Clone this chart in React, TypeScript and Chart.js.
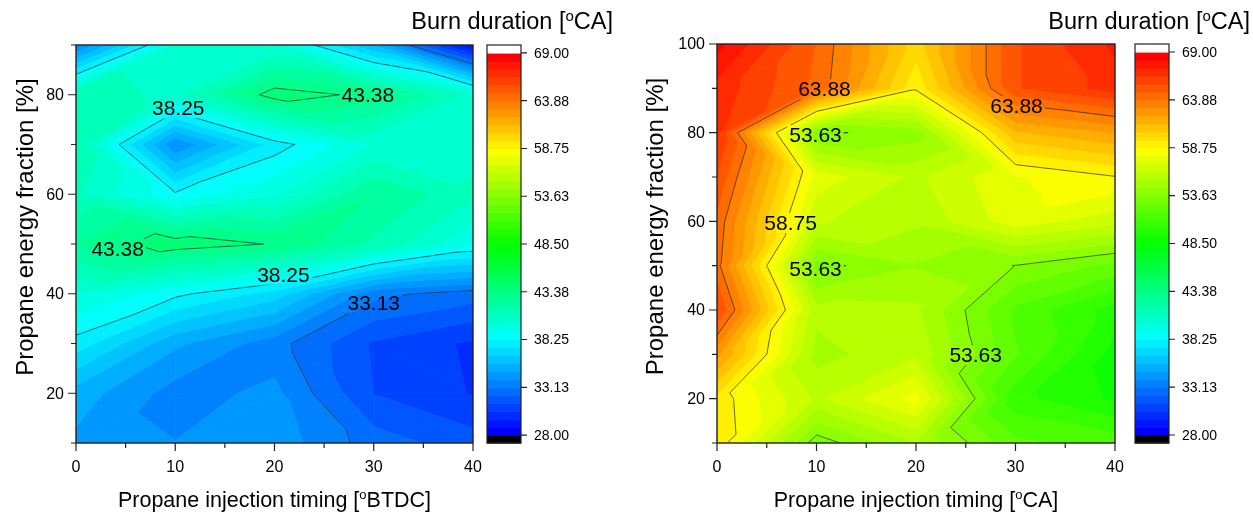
import React, { useEffect, useRef } from "react";
import { Chart, registerables } from "chart.js";
Chart.register(...registerables);

// ---------------- data ----------------
const xTiming = [0, 10, 20, 30, 40];
const yFracLeft = [10, 20, 30, 40, 50, 60, 70, 80, 90];
const yFracRight = [10, 20, 30, 40, 50, 60, 70, 80, 90, 100];

// burn duration rows, bottom (y=10) to top
const burnLeft = [
  [34.6, 34.0, 34.5, 32.7, 31.8],
  [35.3, 33.6, 34.2, 31.4, 30.5],
  [37.9, 35.0, 33.5, 31.3, 30.4],
  [40.0, 38.5, 37.0, 33.4, 32.7],
  [42.5, 44.0, 43.3, 41.5, 39.2],
  [41.0, 38.4, 39.8, 42.5, 41.0],
  [41.5, 34.0, 37.8, 40.0, 40.5],
  [41.5, 40.5, 43.9, 43.1, 40.5],
  [33.6, 40.0, 40.0, 35.6, 28.5],
];
const burnRight = [
  [59.4, 53.1, 55.3, 52.1, 51.5],
  [59.3, 56.0, 58.2, 50.5, 49.2],
  [62.5, 55.0, 56.0, 52.0, 49.0],
  [65.7, 55.6, 55.5, 51.7, 49.8],
  [64.2, 53.3, 54.4, 53.6, 52.5],
  [64.5, 56.3, 55.5, 57.5, 56.5],
  [65.5, 57.5, 56.0, 57.8, 58.7],
  [66.6, 53.45, 54.0, 61.2, 62.2],
  [67.0, 64.5, 58.95, 65.5, 66.8],
  [68.5, 64.7, 60.0, 65.5, 67.5],
];

const levelMin = 28;
const levelMax = 69;
const bandsPerMajor = 6;
const majorCount = 8;
const colorbarLabels = ["28.00", "33.13", "38.25", "43.38", "48.50", "53.63", "58.75", "63.88", "69.00"];

const xMajorTicks = [0, 10, 20, 30, 40];
const xMinorTicks = [5, 15, 25, 35];
const yMajorLeft = [20, 40, 60, 80];
const yMinorLeft = [10, 30, 50, 70, 90];
const yMajorRight = [20, 40, 60, 80, 100];
const yMinorRight = [10, 30, 50, 70, 90];

// contour labels: [text, x, y]
const labelsLeft: [string, number, number][] = [
  ["38.25", 10.3, 77.3],
  ["43.38", 29.4, 80.0],
  ["43.38", 4.2, 49.0],
  ["38.25", 20.9, 43.8],
  ["33.13", 30.0, 38.1],
];
const labelsRight: [string, number, number][] = [
  ["63.88", 10.8, 89.8],
  ["63.88", 30.1, 86.0],
  ["53.63", 9.9, 79.5],
  ["58.75", 7.4, 59.6],
  ["53.63", 9.9, 49.2],
  ["53.63", 26.0, 29.8],
];

// ---------------- helpers ----------------
const FONT = '"Liberation Sans", Arial, sans-serif';
const nBands = bandsPerMajor * majorCount;
const bandStep = (levelMax - levelMin) / nBands;

const cmapStops: [number, number, number, number][] = [
  [0, 0, 0, 255],
  [0.25, 0, 255, 255],
  [0.5, 0, 255, 0],
  [0.75, 255, 255, 0],
  [1, 255, 0, 0],
];
function cmap(t: number) {
  t = Math.max(0, Math.min(1, t));
  for (let i = 0; i < cmapStops.length - 1; i++) {
    const a = cmapStops[i], b = cmapStops[i + 1];
    if (t <= b[0]) {
      const f = (t - a[0]) / (b[0] - a[0]);
      const r = Math.round(a[1] + f * (b[1] - a[1]));
      const g = Math.round(a[2] + f * (b[2] - a[2]));
      const bl = Math.round(a[3] + f * (b[3] - a[3]));
      return `rgb(${r},${g},${bl})`;
    }
  }
  return "rgb(255,0,0)";
}
function bandColor(k: number) {
  if (k < 0) return "#000000";
  if (k >= nBands) return "#ffffff";
  return cmap(k / (nBands - 1));
}

type P = [number, number, number];
function clipPoly(poly: P[], level: number, keepAbove: boolean): P[] {
  const out: P[] = [];
  for (let i = 0; i < poly.length; i++) {
    const a = poly[i], b = poly[(i + 1) % poly.length];
    const ina = keepAbove ? a[2] >= level : a[2] <= level;
    const inb = keepAbove ? b[2] >= level : b[2] <= level;
    if (ina) out.push(a);
    if (ina !== inb) {
      const t = (level - a[2]) / (b[2] - a[2]);
      out.push([a[0] + t * (b[0] - a[0]), a[1] + t * (b[1] - a[1]), level]);
    }
  }
  return out;
}

type Part = { t: string; sup?: boolean };
function drawRich(ctx: CanvasRenderingContext2D, parts: Part[], x: number, y: number, size: number, align: "left" | "center" | "right") {
  const supSize = Math.round(size * 0.62);
  const widths: number[] = [];
  let total = 0;
  for (const p of parts) {
    ctx.font = `${p.sup ? supSize : size}px ${FONT}`;
    const w = ctx.measureText(p.t).width;
    widths.push(w);
    total += w;
  }
  let cx = align === "left" ? x : align === "center" ? x - total / 2 : x - total;
  ctx.textAlign = "left";
  ctx.textBaseline = "alphabetic";
  parts.forEach((p, i) => {
    ctx.font = `${p.sup ? supSize : size}px ${FONT}`;
    ctx.fillText(p.t, cx, p.sup ? y - size * 0.36 : y);
    cx += widths[i];
  });
}

type PanelCfg = {
  ys: number[];
  z: number[][];
  labels: [string, number, number][];
  yMajor: number[];
  yMinor: number[];
  yMax: number;
  xTitle: Part[];
  cbGap: number;
  cbTitleOffset: number;
  yTitleX: number;
  pad: { left: number; right: number; top: number; bottom: number };
};

function contourPlugin(cfg: PanelCfg) {
  return {
    id: "contourPanel",
    beforeDatasetsDraw(chart: any) {
      const { ctx, chartArea: ca, scales } = chart;
      const sx = scales.x, sy = scales.y, sc = scales.cb;
      const X = xTiming, Y = cfg.ys, Z = cfg.z;
      ctx.save();
      ctx.beginPath();
      ctx.rect(ca.left, ca.top, ca.right - ca.left, ca.bottom - ca.top);
      ctx.clip();
      const tris: P[][] = [];
      for (let j = 0; j < Y.length - 1; j++) {
        for (let i = 0; i < X.length - 1; i++) {
          const p = (ii: number, jj: number): P => [sx.getPixelForValue(X[ii]), sy.getPixelForValue(Y[jj]), Z[jj][ii]];
          const p00 = p(i, j), p10 = p(i + 1, j), p11 = p(i + 1, j + 1), p01 = p(i, j + 1);
          // split each cell along the diagonal whose end values are closest
          if (Math.abs(p00[2] - p11[2]) <= Math.abs(p10[2] - p01[2])) {
            tris.push([p00, p10, p11]);
            tris.push([p00, p11, p01]);
          } else {
            tris.push([p00, p10, p01]);
            tris.push([p10, p11, p01]);
          }
        }
      }
      ctx.lineJoin = "round";
      ctx.lineWidth = 0.8;
      for (const tri of tris) {
        const vals = tri.map((q) => q[2]);
        const vmin = Math.min(...vals), vmax = Math.max(...vals);
        const k0 = Math.max(-1, Math.floor((vmin - levelMin) / bandStep));
        const k1 = Math.min(nBands, Math.floor((vmax - levelMin) / bandStep));
        for (let k = k0; k <= k1; k++) {
          let poly: P[] = tri;
          if (k >= 0) poly = clipPoly(poly, levelMin + k * bandStep, true);
          if (k < nBands) poly = clipPoly(poly, levelMin + (k + 1) * bandStep, false);
          if (poly.length < 3) continue;
          const col = bandColor(k);
          ctx.fillStyle = col;
          ctx.strokeStyle = col;
          ctx.beginPath();
          ctx.moveTo(poly[0][0], poly[0][1]);
          for (let m = 1; m < poly.length; m++) ctx.lineTo(poly[m][0], poly[m][1]);
          ctx.closePath();
          ctx.fill();
          ctx.stroke();
        }
      }
      // contour lines with gaps for labels
      ctx.font = `21px ${FONT}`;
      const lab = cfg.labels.map(([t, lx, ly]) => {
        const w = ctx.measureText(t).width;
        return { t, px: sx.getPixelForValue(lx), py: sy.getPixelForValue(ly), w };
      });
      ctx.save();
      ctx.beginPath();
      ctx.rect(0, 0, chart.width, chart.height);
      for (const l of lab) ctx.rect(l.px - l.w / 2 - 2, l.py - 10, l.w + 4, 20);
      ctx.clip("evenodd");
      ctx.strokeStyle = "rgba(40,40,40,0.85)";
      ctx.lineWidth = 0.8;
      ctx.beginPath();
      for (let m = 1; m < majorCount; m++) {
        const L = levelMin + m * bandsPerMajor * bandStep;
        for (const tri of tris) {
          const pts: [number, number][] = [];
          for (let e = 0; e < 3; e++) {
            const a = tri[e], b = tri[(e + 1) % 3];
            const ia = a[2] >= L, ib = b[2] >= L;
            if (ia !== ib) {
              const t = (L - a[2]) / (b[2] - a[2]);
              pts.push([a[0] + t * (b[0] - a[0]), a[1] + t * (b[1] - a[1])]);
            }
          }
          if (pts.length === 2) {
            ctx.moveTo(pts[0][0], pts[0][1]);
            ctx.lineTo(pts[1][0], pts[1][1]);
          }
        }
      }
      ctx.stroke();
      ctx.restore();
      ctx.fillStyle = "#000";
      ctx.textAlign = "center";
      ctx.textBaseline = "middle";
      ctx.font = `21px ${FONT}`;
      for (const l of lab) ctx.fillText(l.t, l.px, l.py + 1);
      ctx.restore();

      // frame
      ctx.save();
      ctx.strokeStyle = "#222";
      ctx.lineWidth = 1.4;
      ctx.strokeRect(ca.left, ca.top, ca.right - ca.left, ca.bottom - ca.top);
      // ticks
      ctx.lineWidth = 1.2;
      ctx.beginPath();
      for (const v of xMajorTicks) { const px = sx.getPixelForValue(v); ctx.moveTo(px, ca.bottom); ctx.lineTo(px, ca.bottom + 8); }
      for (const v of xMinorTicks) { const px = sx.getPixelForValue(v); ctx.moveTo(px, ca.bottom); ctx.lineTo(px, ca.bottom + 5); }
      for (const v of cfg.yMajor) { const py = sy.getPixelForValue(v); ctx.moveTo(ca.left, py); ctx.lineTo(ca.left - 8, py); }
      for (const v of cfg.yMinor) { const py = sy.getPixelForValue(v); ctx.moveTo(ca.left, py); ctx.lineTo(ca.left - 5, py); }
      ctx.stroke();
      ctx.fillStyle = "#000";
      ctx.font = `16px ${FONT}`;
      ctx.textAlign = "center";
      ctx.textBaseline = "alphabetic";
      for (const v of xMajorTicks) ctx.fillText(String(v), sx.getPixelForValue(v), ca.bottom + 29);
      ctx.textAlign = "right";
      ctx.textBaseline = "middle";
      for (const v of cfg.yMajor) ctx.fillText(String(v), ca.left - 12, sy.getPixelForValue(v) + 1);

      // axis titles
      drawRich(ctx, cfg.xTitle, (ca.left + ca.right) / 2, ca.bottom + 64, 21.5, "center");
      ctx.save();
      ctx.translate(cfg.yTitleX, (ca.top + ca.bottom) / 2 - 17);
      ctx.rotate(-Math.PI / 2);
      drawRich(ctx, [{ t: "Propane energy fraction [%]" }], 0, 0, 24, "center");
      ctx.restore();

      // colorbar
      const cbL = ca.right + cfg.cbGap, cbR = cbL + 34;
      for (let k = -1; k <= nBands; k++) {
        const y0 = sc.getPixelForValue(levelMin + k * bandStep);
        const y1 = sc.getPixelForValue(levelMin + (k + 1) * bandStep);
        ctx.fillStyle = bandColor(k);
        ctx.fillRect(cbL, y1, cbR - cbL, y0 - y1 + 0.6);
      }
      const cTop = sc.getPixelForValue(levelMax + bandStep), cBot = sc.getPixelForValue(levelMin - bandStep);
      ctx.strokeStyle = "#222";
      ctx.lineWidth = 1.2;
      ctx.strokeRect(cbL, cTop, cbR - cbL, cBot - cTop);
      ctx.beginPath();
      ctx.font = `14px ${FONT}`;
      ctx.fillStyle = "#000";
      ctx.textAlign = "left";
      ctx.textBaseline = "middle";
      colorbarLabels.forEach((t, m) => {
        const py = sc.getPixelForValue(levelMin + m * bandsPerMajor * bandStep);
        ctx.moveTo(cbR, py);
        ctx.lineTo(cbR + 6, py);
        ctx.fillText(t, cbR + 13, py + 1);
      });
      ctx.stroke();
      drawRich(ctx, [{ t: "Burn duration [" }, { t: "o", sup: true }, { t: "CA]" }], cbR + cfg.cbTitleOffset, 29, 23.5, "right");
      ctx.restore();
    },
  };
}

function Panel({ cfg, left, width }: { cfg: PanelCfg; left: number; width: number }) {
  const ref = useRef<HTMLCanvasElement | null>(null);
  useEffect(() => {
    if (!ref.current) return;
    const points: { x: number; y: number }[] = [];
    cfg.ys.forEach((yv) => xTiming.forEach((xv) => points.push({ x: xv, y: yv })));
    const chart = new Chart(ref.current, {
      type: "scatter",
      data: { datasets: [{ data: points, pointRadius: 0, pointHoverRadius: 0, showLine: false }] },
      options: {
        animation: false,
        responsive: false,
        events: [],
        layout: { padding: cfg.pad },
        plugins: { legend: { display: false }, tooltip: { enabled: false } },
        scales: {
          x: { type: "linear", min: 0, max: 40, display: false },
          y: { type: "linear", min: 10, max: cfg.yMax, display: false },
          cb: { type: "linear", position: "right", min: levelMin - bandStep, max: levelMax + bandStep, display: false },
        },
      } as any,
      plugins: [contourPlugin(cfg) as any],
    });
    return () => chart.destroy();
  }, []);
  return (
    <canvas
      ref={ref}
      width={width}
      height={514}
      style={{ position: "absolute", left, top: 0, width, height: 514 }}
    />
  );
}

const leftCfg: PanelCfg = {
  ys: yFracLeft,
  z: burnLeft,
  labels: labelsLeft,
  yMajor: yMajorLeft,
  yMinor: yMinorLeft,
  yMax: 90,
  xTitle: [{ t: "Propane injection timing [" }, { t: "o", sup: true }, { t: "BTDC]" }],
  cbGap: 14,
  cbTitleOffset: 92,
  yTitleX: 33,
  pad: { left: 76, right: 154, top: 45, bottom: 71 },
};
const rightCfg: PanelCfg = {
  ys: yFracRight,
  z: burnRight,
  labels: labelsRight,
  yMajor: yMajorRight,
  yMinor: yMinorRight,
  yMax: 100,
  xTitle: [{ t: "Propane injection timing [" }, { t: "o", sup: true }, { t: "CA]" }],
  cbGap: 20,
  cbTitleOffset: 81,
  yTitleX: 36,
  pad: { left: 90, right: 138, top: 44, bottom: 71 },
};

export default function App() {
  return (
    <div style={{ position: "fixed", left: 0, top: 0, width: 1253, height: 514, background: "#fff", overflow: "hidden" }}>
      <Panel cfg={leftCfg} left={0} width={627} />
      <Panel cfg={rightCfg} left={627} width={626} />
    </div>
  );
}
